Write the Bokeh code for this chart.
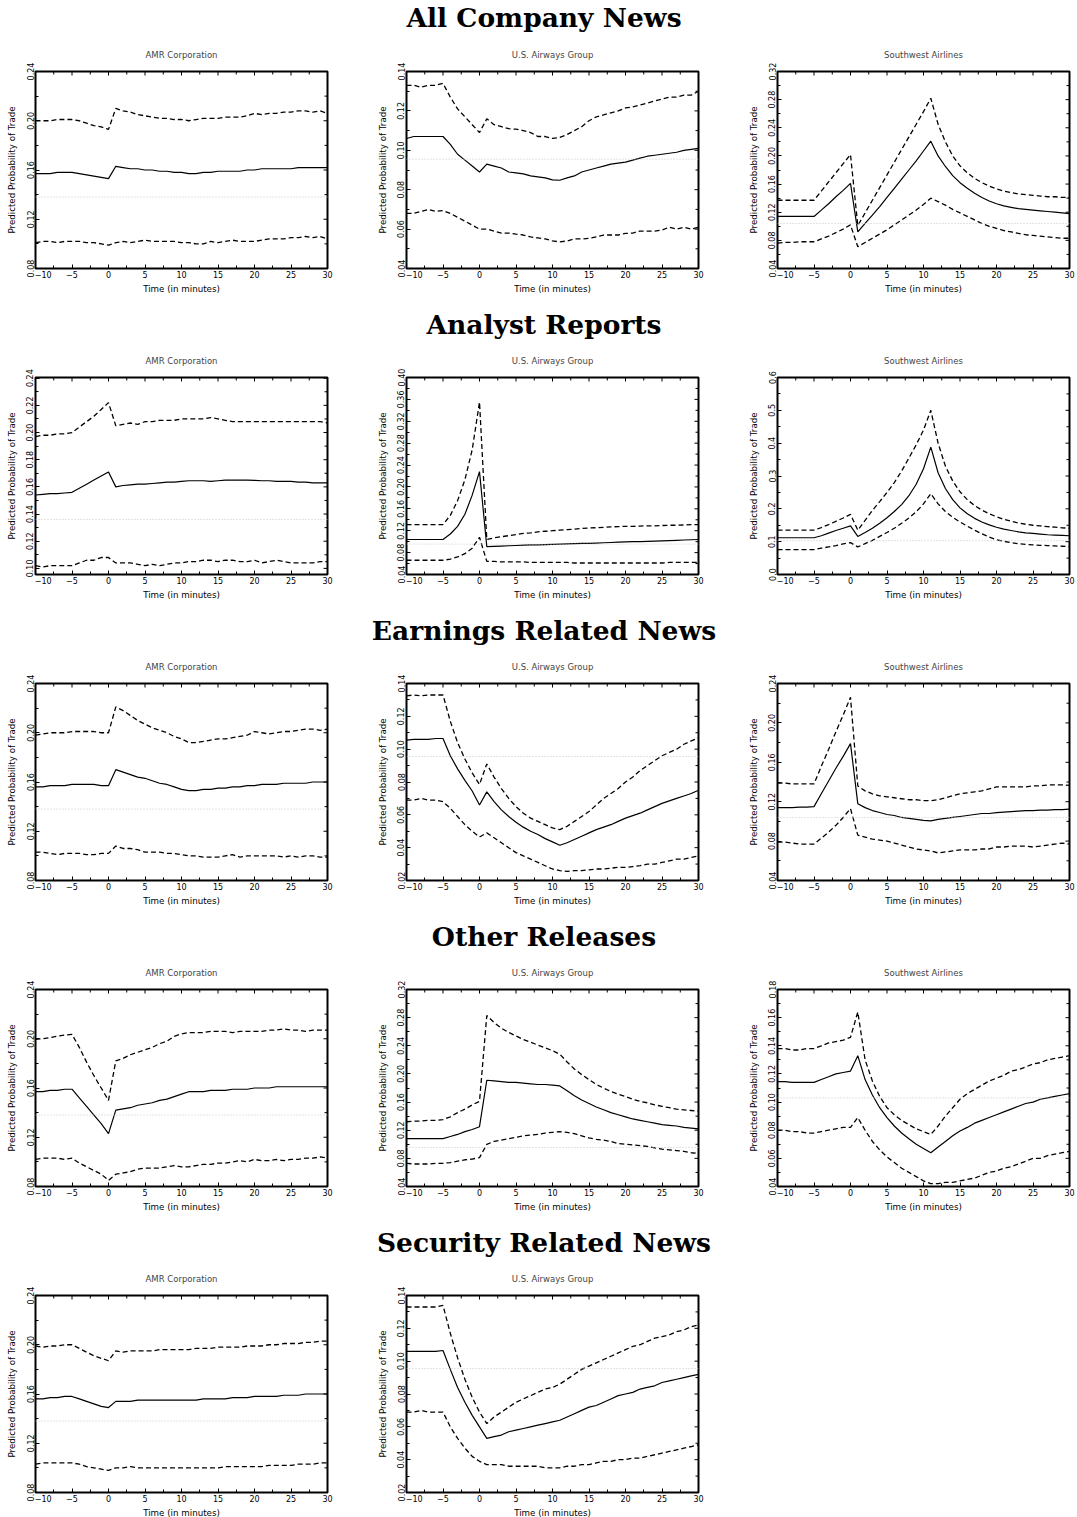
import math
from bokeh.plotting import figure
from bokeh.models import Div, Span, FixedTicker, PrintfTickFormatter, Range1d
from bokeh.layouts import column, row
from bokeh.embed import file_html
from bokeh.resources import INLINE

# ---------------- data ----------------
minutes = list(range(-10, 31))
x_ticks = [-10, -5, 0, 5, 10, 15, 20, 25, 30]
x_minor = [-7.5, -2.5, 2.5, 7.5, 12.5, 17.5, 22.5, 27.5]
x_tick_labels = {-10: "\u2007\u2007\u2007\u221210", -5: "\u22125"}

sections = ["All Company News", "Analyst Reports", "Earnings Related News",
            "Other Releases", "Security Related News"]
companies = ["AMR Corporation", "U.S. Airways Group", "Southwest Airlines"]

# All Company News
acn_amr_mid = [.157,.157,.157,.158,.158,.158, .157,.156,.155,.154,.153,
               .163,.162,.161,.161,.160,.160,.159,.159,.158,.158,
               .157,.157,.158,.158,.159,.159,.159,.159,.160,.160,
               .161,.161,.161,.161,.161,.162,.162,.162,.162,.162]
acn_amr_hi = [.200,.200,.200,.201,.201,.201, .200,.198,.196,.195,.193,
              .210,.208,.207,.205,.204,.203,.202,.202,.201,.201,
              .200,.201,.202,.202,.202,.203,.203,.203,.204,.206,
              .205,.206,.206,.207,.207,.208,.208,.207,.208,.206]
acn_amr_lo = [.101,.102,.102,.101,.102,.102, .102,.101,.101,.100,.099,
              .101,.102,.101,.102,.103,.102,.102,.102,.102,.101,
              .101,.100,.100,.102,.101,.102,.103,.102,.102,.102,
              .103,.104,.104,.104,.105,.105,.106,.105,.106,.104]

acn_usa_mid = [.106,.107,.107,.107,.107,.107, .103,.098,.095,.092,.089,
               .093,.092,.091,.089,.0885,.088,.087,.0865,.086,.085,
               .0848,.086,.087,.089,.090,.091,.092,.093,.0935,.094,
               .095,.096,.097,.0975,.098,.0985,.099,.100,.1005,.101]
acn_usa_hi = [.133,.133,.132,.133,.133,.134, .127,.121,.117,.113,.109,
              .116,.113,.112,.111,.1107,.110,.109,.107,.107,.106,
              .1066,.108,.110,.112,.115,.117,.118,.119,.120,.1215,
              .122,.123,.124,.125,.126,.127,.127,.128,.128,.130]
acn_usa_lo = [.068,.068,.069,.070,.069,.0694, .068,.066,.064,.062,.060,
              .060,.059,.058,.058,.0574,.057,.056,.0555,.055,.054,
              .0535,.054,.055,.055,.0553,.056,.057,.057,.057,.0578,
              .058,.059,.059,.059,.0595,.061,.060,.061,.060,.061]

acn_swa_mid = [.114,.114,.114,.114,.114,.114, .123,.132,.142,.151,.161,
               .092,.104,.116,.128,.141,.154,.167,.180,.193,.207,
               .221,.200,.185,.172,.162,.154,.147,.141,.136,.132,
               .129,.127,.125,.124,.123,.122,.121,.120,.119,.118]
acn_swa_hi = [.137,.137,.137,.137,.137,.137, .150,.163,.176,.189,.202,
              .101,.119,.137,.155,.173,.191,.209,.227,.245,.263,
              .282,.245,.220,.200,.186,.176,.168,.162,.157,.153,
              .150,.148,.146,.145,.144,.143,.142,.142,.141,.141]
acn_swa_lo = [.076,.077,.077,.078,.078,.078, .082,.086,.091,.096,.102,
              .071,.077,.083,.089,.095,.102,.109,.116,.123,.131,
              .140,.135,.130,.124,.119,.114,.109,.104,.100,.097,
              .094,.092,.090,.088,.087,.086,.085,.084,.083,.083]

# Analyst Reports
ana_amr_mid = [.154,.1545,.155,.155,.1555,.156, .159,.162,.165,.168,.171,
               .160,.161,.1615,.162,.162,.1625,.163,.1635,.1635,.164,
               .1645,.1645,.1645,.164,.1645,.165,.165,.165,.165,.1648,
               .1645,.1645,.164,.164,.164,.1635,.1635,.163,.163,.163]
ana_amr_hi = [.197,.198,.198,.199,.199,.200, .204,.208,.212,.217,.222,
              .205,.206,.207,.206,.208,.208,.209,.209,.209,.210,
              .210,.210,.210,.211,.210,.209,.208,.208,.208,.208,
              .208,.208,.208,.208,.208,.208,.208,.208,.208,.207]
ana_amr_lo = [.102,.101,.102,.102,.102,.102, .104,.106,.106,.108,.108,
              .104,.104,.104,.103,.102,.103,.102,.103,.104,.104,
              .105,.105,.106,.106,.105,.106,.106,.105,.105,.106,
              .104,.105,.106,.105,.104,.104,.104,.104,.105,.105]

ana_usa_mid = [.104,.104,.104,.104,.104,.104, .114,.128,.150,.185,.228,
               .091,.0915,.092,.0925,.093,.0935,.094,.094,.0945,.095,
               .0955,.096,.0965,.097,.097,.0975,.098,.0985,.099,.0995,
               .100,.100,.1005,.101,.1015,.102,.1025,.103,.1035,.104]
ana_usa_hi = [.131,.131,.131,.131,.131,.131, .148,.175,.213,.268,.355,
              .104,.107,.109,.111,.113,.115,.116,.118,.119,.120,
              .121,.122,.123,.124,.125,.1255,.126,.127,.1275,.128,
              .128,.1285,.129,.129,.1295,.130,.130,.1305,.131,.131]
ana_usa_lo = [.066,.066,.066,.066,.066,.066, .068,.072,.078,.088,.108,
              .064,.064,.063,.063,.063,.063,.062,.062,.062,.062,
              .062,.062,.061,.061,.061,.061,.061,.061,.061,.061,
              .061,.061,.061,.061,.061,.062,.062,.062,.062,.062]

ana_swa_mid = [.112,.112,.112,.112,.112,.112, .118,.126,.134,.141,.148,
               .116,.128,.141,.156,.173,.192,.213,.240,.275,.322,
               .388,.310,.262,.228,.203,.185,.171,.160,.151,.144,
               .138,.134,.130,.127,.125,.123,.121,.120,.119,.118]
ana_swa_hi = [.135,.135,.135,.135,.135,.135, .143,.152,.162,.172,.183,
              .135,.165,.195,.222,.250,.280,.315,.355,.395,.440,
              .500,.400,.330,.285,.252,.228,.210,.196,.185,.176,
              .168,.162,.157,.153,.150,.148,.146,.144,.142,.141]
ana_swa_lo = [.076,.076,.076,.076,.076,.076, .080,.084,.088,.093,.097,
              .084,.094,.104,.116,.128,.141,.156,.172,.191,.215,
              .246,.215,.192,.174,.160,.147,.135,.124,.114,.106,
              .101,.097,.094,.092,.090,.089,.088,.087,.086,.085]

# Earnings Related News
ern_amr_mid = [.156,.156,.157,.157,.157,.158, .158,.158,.158,.157,.157,
               .170,.168,.166,.164,.163,.161,.159,.158,.156,.154,
               .153,.153,.154,.154,.155,.155,.156,.156,.157,.157,
               .158,.158,.158,.159,.159,.159,.159,.160,.160,.160]
ern_amr_hi = [.198,.199,.200,.200,.200,.201, .201,.201,.201,.200,.200,
              .221,.218,.214,.210,.207,.204,.202,.200,.197,.195,
              .192,.192,.193,.194,.195,.195,.196,.197,.198,.201,
              .200,.199,.200,.201,.201,.202,.203,.203,.202,.203]
ern_amr_lo = [.103,.103,.102,.101,.102,.102, .102,.101,.101,.102,.102,
              .108,.106,.106,.105,.103,.103,.103,.102,.102,.101,
              .100,.100,.099,.099,.099,.100,.101,.099,.100,.100,
              .100,.100,.100,.099,.100,.099,.100,.100,.099,.099]

ern_usa_mid = [.1055,.106,.106,.106,.1065,.1065, .096,.088,.081,.0745,.066,
               .074,.068,.063,.059,.0555,.0525,.050,.048,.0455,.0435,
               .0415,.043,.045,.047,.049,.051,.0525,.054,.056,.058,
               .0595,.061,.063,.065,.067,.0685,.070,.0715,.073,.075]
ern_usa_hi = [.1325,.133,.1325,.133,.133,.133, .117,.104,.094,.0855,.0785,
              .091,.083,.076,.070,.065,.061,.058,.056,.054,.052,
              .051,.053,.056,.059,.062,.066,.070,.073,.076,.080,
              .083,.087,.090,.093,.096,.098,.100,.103,.105,.107]
ern_usa_lo = [.069,.069,.070,.069,.069,.068, .064,.059,.054,.050,.0465,
              .049,.046,.043,.040,.037,.035,.033,.031,.029,.027,
              .026,.0255,.026,.026,.0265,.027,.027,.0275,.028,.028,
              .0285,.029,.030,.030,.031,.032,.033,.033,.034,.035]

ern_swa_mid = [.114,.114,.114,.1145,.1145,.115, .128,.141,.154,.166,.179,
               .118,.114,.111,.109,.107,.106,.104,.103,.102,.101,
               .1005,.102,.103,.104,.105,.106,.107,.108,.108,.109,
               .1095,.110,.1105,.111,.111,.1115,.1115,.112,.112,.1125]
ern_swa_hi = [.139,.139,.138,.138,.138,.138, .156,.173,.191,.208,.226,
              .136,.131,.128,.126,.125,.124,.123,.122,.122,.121,
              .121,.122,.124,.126,.128,.129,.130,.131,.133,.135,
              .135,.135,.135,.135,.136,.136,.137,.137,.137,.1365]
ern_swa_lo = [.079,.079,.078,.077,.077,.077, .083,.089,.096,.104,.113,
              .086,.084,.082,.081,.080,.078,.076,.074,.072,.071,
              .070,.068,.069,.070,.071,.071,.071,.072,.072,.074,
              .074,.075,.075,.075,.074,.075,.076,.077,.078,.077]

# Other Releases
oth_amr_mid = [.157,.157,.158,.158,.159,.159, .152,.145,.138,.131,.123,
               .142,.143,.144,.146,.147,.148,.150,.151,.153,.155,
               .157,.157,.157,.158,.158,.158,.159,.159,.159,.160,
               .160,.160,.161,.161,.161,.161,.161,.161,.161,.161]
oth_amr_hi = [.1995,.200,.201,.202,.203,.2035, .193,.181,.170,.160,.150,
              .182,.184,.187,.189,.191,.193,.196,.198,.202,.204,
              .205,.205,.205,.206,.206,.206,.205,.206,.206,.206,
              .206,.207,.207,.208,.207,.207,.206,.207,.207,.207]
oth_amr_lo = [.102,.103,.103,.103,.102,.103, .099,.096,.093,.090,.085,
              .090,.091,.092,.094,.095,.095,.095,.096,.097,.096,
              .096,.097,.098,.098,.099,.099,.100,.101,.100,.102,
              .101,.101,.102,.101,.102,.102,.103,.103,.104,.103]

oth_usa_mid = [.108,.108,.108,.108,.108,.108, .111,.114,.118,.121,.125,
               .191,.190,.189,.188,.188,.187,.186,.185,.185,.184,
               .183,.176,.169,.163,.158,.153,.149,.145,.142,.139,
               .136,.134,.132,.130,.128,.127,.126,.124,.123,.122]
oth_usa_hi = [.132,.133,.133,.134,.134,.135, .139,.145,.150,.156,.161,
              .283,.273,.265,.259,.254,.249,.245,.241,.237,.233,
              .228,.217,.207,.199,.192,.185,.180,.175,.171,.168,
              .164,.161,.159,.156,.154,.152,.150,.149,.148,.147]
oth_usa_lo = [.073,.072,.072,.072,.073,.073, .074,.076,.078,.079,.081,
              .100,.104,.106,.108,.110,.112,.113,.114,.116,.117,
              .118,.117,.115,.112,.109,.107,.106,.104,.101,.100,
              .099,.098,.097,.095,.093,.092,.091,.090,.088,.087]

oth_swa_mid = [.1145,.1145,.114,.114,.114,.114, .116,.118,.120,.121,.122,
               .133,.116,.105,.096,.089,.083,.078,.074,.070,.067,
               .064,.068,.072,.076,.0795,.082,.085,.087,.089,.091,
               .093,.095,.097,.099,.100,.102,.103,.104,.105,.106]
oth_swa_hi = [.138,.138,.137,.137,.138,.138, .140,.142,.143,.144,.146,
              .164,.130,.115,.104,.096,.091,.087,.084,.081,.079,
              .077,.083,.090,.096,.102,.106,.109,.112,.115,.117,
              .119,.122,.123,.125,.127,.128,.130,.131,.132,.133]
oth_swa_lo = [.080,.080,.079,.079,.078,.078, .079,.080,.081,.082,.082,
              .089,.080,.072,.066,.061,.057,.053,.050,.047,.044,
              .042,.042,.043,.043,.044,.045,.046,.048,.050,.051,
              .053,.054,.056,.058,.060,.060,.062,.063,.064,.065]

# Security Related News
sec_amr_mid = [.156,.156,.157,.157,.158,.158, .156,.154,.152,.150,.149,
               .154,.154,.154,.155,.155,.155,.155,.155,.155,.155,
               .155,.155,.156,.156,.156,.156,.157,.157,.157,.158,
               .158,.158,.158,.159,.159,.159,.160,.160,.160,.160]
sec_amr_hi = [.199,.198,.199,.199,.200,.200, .197,.194,.191,.189,.187,
              .195,.194,.195,.195,.195,.195,.196,.196,.196,.196,
              .196,.197,.197,.197,.198,.198,.198,.198,.199,.199,
              .199,.200,.200,.201,.201,.201,.202,.202,.203,.203]
sec_amr_lo = [.103,.104,.104,.104,.104,.104, .103,.101,.100,.099,.098,
              .100,.100,.101,.100,.100,.100,.100,.100,.100,.100,
              .100,.100,.100,.100,.100,.101,.101,.101,.101,.101,
              .101,.102,.102,.102,.102,.103,.103,.103,.104,.104]

sec_usa_mid = [.106,.106,.106,.106,.106,.1065, .095,.084,.075,.067,.060,
               .053,.054,.055,.057,.058,.059,.060,.061,.062,.063,
               .064,.066,.068,.070,.072,.073,.075,.077,.079,.080,
               .081,.083,.084,.085,.087,.088,.089,.090,.091,.092]
sec_usa_hi = [.133,.133,.133,.133,.133,.134, .117,.102,.089,.078,.069,
              .062,.066,.069,.072,.075,.077,.079,.081,.083,.084,
              .086,.089,.092,.095,.097,.099,.101,.103,.105,.107,
              .109,.110,.112,.114,.115,.116,.118,.119,.121,.122]
sec_usa_lo = [.069,.069,.070,.069,.069,.069, .060,.053,.047,.042,.039,
              .037,.037,.037,.036,.036,.036,.036,.036,.035,.035,
              .035,.036,.036,.037,.037,.038,.039,.039,.040,.040,
              .041,.041,.042,.043,.044,.045,.046,.047,.048,.049]

# unconditional probability (faint dotted reference line)
base_amr = 0.138
base_amr_ana = 0.136
base_usa = 0.0955
base_swa = 0.104
base_swa_alt = 0.103

# y axis settings: (low, high, first tick, step, decimals)
axes_acn = [(0.08, 0.24, 0.08, 0.04, 2), (0.04, 0.14, 0.04, 0.02, 2), (0.04, 0.32, 0.04, 0.04, 2)]
axes_ana = [(0.0955, 0.2405, 0.10, 0.02, 2), (0.04, 0.40, 0.04, 0.04, 2), (0.0, 0.6, 0.0, 0.1, 1)]
axes_ern = [(0.08, 0.24, 0.08, 0.04, 2), (0.02, 0.14, 0.02, 0.02, 2), (0.04, 0.24, 0.04, 0.04, 2)]
axes_oth = [(0.08, 0.24, 0.08, 0.04, 2), (0.04, 0.32, 0.04, 0.04, 2), (0.04, 0.18, 0.04, 0.02, 2)]
axes_sec = [(0.08, 0.24, 0.08, 0.04, 2), (0.02, 0.14, 0.02, 0.02, 2)]

grid_data = [
    [(acn_amr_mid, acn_amr_hi, acn_amr_lo, base_amr), (acn_usa_mid, acn_usa_hi, acn_usa_lo, base_usa),
     (acn_swa_mid, acn_swa_hi, acn_swa_lo, base_swa)],
    [(ana_amr_mid, ana_amr_hi, ana_amr_lo, base_amr_ana), (ana_usa_mid, ana_usa_hi, ana_usa_lo, base_usa),
     (ana_swa_mid, ana_swa_hi, ana_swa_lo, base_swa_alt)],
    [(ern_amr_mid, ern_amr_hi, ern_amr_lo, base_amr), (ern_usa_mid, ern_usa_hi, ern_usa_lo, base_usa),
     (ern_swa_mid, ern_swa_hi, ern_swa_lo, base_swa)],
    [(oth_amr_mid, oth_amr_hi, oth_amr_lo, base_amr), (oth_usa_mid, oth_usa_hi, oth_usa_lo, base_usa),
     (oth_swa_mid, oth_swa_hi, oth_swa_lo, base_swa_alt)],
    [(sec_amr_mid, sec_amr_hi, sec_amr_lo, base_amr), (sec_usa_mid, sec_usa_hi, sec_usa_lo, base_usa)],
]
grid_axes = [axes_acn, axes_ana, axes_ern, axes_oth, axes_sec]

# ---------------- styling ----------------
FONT = "DejaVu Sans"
FRAME_W, FRAME_H = 292, 197
LEFT, RIGHT, TOP = 35, 8, 32
PITCH = 371


def style_axis(ax, ticker, fmt):
    ax.ticker = ticker
    ax.formatter = fmt
    ax.axis_line_color = None
    ax.major_tick_in = 4
    ax.major_tick_out = 0
    ax.minor_tick_in = 3
    ax.minor_tick_out = 0
    ax.major_tick_line_color = "black"
    ax.minor_tick_line_color = "black"
    ax.major_label_text_font = FONT
    ax.major_label_text_font_size = "8px"
    ax.major_label_text_color = "black"
    ax.major_label_standoff = 2
    ax.axis_label_text_font = FONT
    ax.axis_label_text_font_size = "8.7px"
    ax.axis_label_text_font_style = "normal"
    ax.axis_label_text_color = "black"


def make_panel(title, mid, hi, lo, base, yax, bottom):
    ylo, yhi, t0, step, dec = yax
    p = figure(frame_width=FRAME_W, frame_height=FRAME_H, output_backend="svg",
               toolbar_location=None, x_range=Range1d(-10, 30), y_range=Range1d(ylo, yhi),
               min_border_left=LEFT, min_border_right=RIGHT, min_border_top=TOP,
               min_border_bottom=bottom, background_fill_color="white",
               border_fill_color="white")
    p.title.text = title
    p.title.align = "center"
    p.title.vertical_align = "top"
    p.title.text_font = FONT
    p.title.text_font_size = "8.5px"
    p.title.text_font_style = "normal"
    p.title.standoff = 19
    p.outline_line_color = "black"
    p.outline_line_width = 2
    p.xgrid.visible = False
    p.ygrid.visible = False

    n = int(round((yhi - t0) / step + 1e-9))
    yt = [round(t0 + i * step, 4) for i in range(n + 1)]
    ym = [round(t0 + (i + 0.5) * step, 4) for i in range(-1, n + 1)]
    ym = [v for v in ym if ylo <= v <= yhi]
    yticker = FixedTicker(ticks=yt, minor_ticks=ym)
    xticker = FixedTicker(ticks=x_ticks, minor_ticks=x_minor)

    style_axis(p.xaxis[0], xticker, PrintfTickFormatter(format="%d"))
    p.xaxis[0].major_label_overrides = x_tick_labels
    p.xaxis[0].axis_label = "Time (in minutes)"
    p.xaxis[0].axis_label_standoff = 1
    style_axis(p.yaxis[0], yticker, PrintfTickFormatter(format="%%.%df" % dec))
    p.yaxis[0].axis_label = "Predicted Probability of Trade"
    p.yaxis[0].axis_label_standoff = 7
    p.yaxis[0].major_label_orientation = "vertical"

    # inward ticks on the top and right edges of the frame
    p.scatter(x_ticks, [yhi] * len(x_ticks), marker="dash", angle=math.pi / 2, size=8,
              line_color="black", line_width=1)
    p.scatter(x_minor, [yhi] * len(x_minor), marker="dash", angle=math.pi / 2, size=6,
              line_color="black", line_width=1)
    p.scatter([30] * len(yt), yt, marker="dash", size=8, line_color="black", line_width=1)
    p.scatter([30] * len(ym), ym, marker="dash", size=6, line_color="black", line_width=1)

    p.add_layout(Span(location=base, dimension="width", line_color="#c8c8c8",
                      line_dash="1 2", line_width=1))
    p.line(minutes, hi, line_color="black", line_width=1.3, line_dash="5 3")
    p.line(minutes, lo, line_color="black", line_width=1.3, line_dash="5 3")
    p.line(minutes, mid, line_color="black", line_width=1.2)
    return p


def section_div(text, height, line_h):
    html = ('<div style="font-family:\'DejaVu Serif\',serif;font-weight:bold;font-size:26.5px;'
            'line-height:%dpx;text-align:center;width:1077px;padding-left:11px;'
            'box-sizing:border-box;color:black;white-space:nowrap;">%s</div>' % (line_h, text))
    return Div(text=html, width=1077, height=height, margin=(0, 0, 0, 0))


children = []
for si, name in enumerate(sections):
    if si == 0:
        children.append(section_div(name, 39, 36))
    else:
        children.append(section_div(name, 37, 34))
    bottom = 23 if si == len(sections) - 1 else 40
    figs = []
    for ci, (mid, hi, lo, base) in enumerate(grid_data[si]):
        figs.append(make_panel(companies[ci], mid, hi, lo, base, grid_axes[si][ci], bottom))
    fig_w = LEFT + FRAME_W + RIGHT
    children.append(row(*figs, spacing=PITCH - fig_w))

layout = column(*children, spacing=0)
open("out.html", "w").write(file_html(layout, INLINE))
